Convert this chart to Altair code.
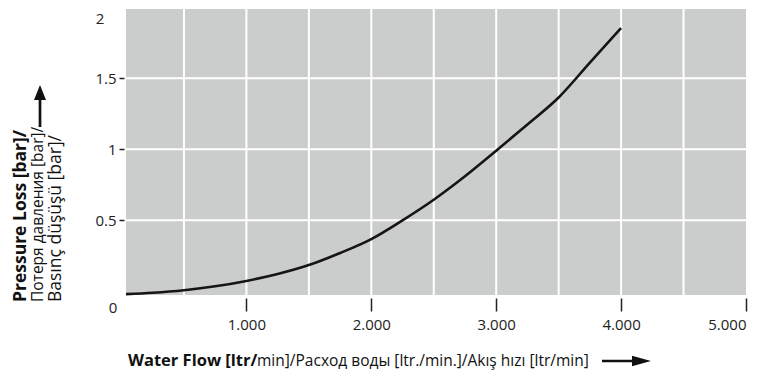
import altair as alt
import pandas as pd

# Curve data
flow = [36, 250, 500, 750, 1000, 1250, 1500, 1750, 2000, 2250, 2500, 2750, 3000, 3250, 3500, 3750, 4000]
loss = [-0.02, -0.01, 0.008, 0.035, 0.073, 0.122, 0.185, 0.27, 0.368, 0.5, 0.645, 0.81, 0.99, 1.175, 1.365, 1.61, 1.854]

x_ticks = [1000, 2000, 3000, 4000, 5000]
x_grid = [500, 1000, 1500, 2000, 2500, 3000, 3500, 4000, 4500]
y_ticks = [0.5, 1, 1.5]

y_title_lines = ["Pressure Loss [bar]/", "Потеря давления [bar]/", "Basınç düşüşü [bar]/"]
x_title_bold = "Water Flow [ltr/"
x_title_reg = "min]/Расход воды [ltr./min.]/Akış hızı [ltr/min]"

FONT = "Open Sans"
X_DOM = [36, 5000]
Y_DOM = [-0.026, 1.988]

xs = alt.Scale(domain=X_DOM, nice=False, zero=False)
ys = alt.Scale(domain=Y_DOM, nice=False, zero=False)

curve_df = pd.DataFrame({"flow": flow, "loss": loss})

curve = alt.Chart(curve_df).mark_line(color="#151515", strokeWidth=2.6, interpolate="monotone").encode(
    x=alt.X("flow:Q", scale=xs, axis=alt.Axis(
        values=x_ticks, title=None, domain=False, grid=False, tickSize=13, tickWidth=1.5,
        tickColor="#222", offset=3, labelPadding=6, labelFontSize=15, labelFont=FONT,
        labelColor="#222", labelExpr="replace(format(datum.value, ','), ',', '.')")),
    y=alt.Y("loss:Q", scale=ys, axis=alt.Axis(
        values=y_ticks, title=None, domain=False, grid=False, tickSize=5, tickWidth=1.5,
        tickColor="#222", offset=2, labelPadding=3, labelFontSize=15, labelFont=FONT,
        labelColor="#222", labelExpr="datum.value + ''")),
)

vgrid = alt.Chart(pd.DataFrame({"g": x_grid})).mark_rule(color="white", strokeWidth=2).encode(
    x=alt.X("g:Q", scale=xs))
hgrid = alt.Chart(pd.DataFrame({"g": y_ticks})).mark_rule(color="white", strokeWidth=2).encode(
    y=alt.Y("g:Q", scale=ys))

# corner labels "2" and "0"
lbl2 = alt.Chart(pd.DataFrame({"t": ["2"]})).mark_text(
    font=FONT, fontSize=15, color="#222", align="center", baseline="middle").encode(
    x=alt.value(-26), y=alt.value(10), text="t:N")
lbl0 = alt.Chart(pd.DataFrame({"t": ["0"]})).mark_text(
    font=FONT, fontSize=15, color="#222", align="center", baseline="middle").encode(
    x=alt.value(-13), y=alt.value(299), text="t:N")

# Y title (three rotated lines)
ytitle = []
for txt, xpos, wt, fs in zip(y_title_lines, [-105, -88, -70], ["bold", "normal", "normal"],
                             [17.5, 15.5, 17.5]):
    ytitle.append(alt.Chart(pd.DataFrame({"t": [txt]})).mark_text(
        font=FONT, fontSize=fs, fontWeight=wt, color="#111", angle=270, align="left",
        baseline="middle").encode(x=alt.value(xpos), y=alt.value(293), text="t:N"))

# Y arrow
yarrow_shaft = alt.Chart(pd.DataFrame({"a": [0]})).mark_rule(color="#111", strokeWidth=2.7).encode(
    x=alt.value(-86), y=alt.value(118), y2=alt.value(88))
yarrow_head = alt.Chart(pd.DataFrame({"a": [0]})).mark_point(
    shape="M-0.8,1L0,-1L0.8,1Z", filled=True, color="#111", opacity=1, size=225).encode(
    x=alt.value(-86), y=alt.value(83.5))

# X title
xt_bold = alt.Chart(pd.DataFrame({"t": [x_title_bold]})).mark_text(
    font=FONT, fontSize=16.5, fontWeight="bold", color="#111", align="left", baseline="middle").encode(
    x=alt.value(2), y=alt.value(352), text="t:N")
xt_reg = alt.Chart(pd.DataFrame({"t": [x_title_reg]})).mark_text(
    font=FONT, fontSize=15.5, fontWeight="normal", color="#111", align="left", baseline="middle").encode(
    x=alt.value(131), y=alt.value(352), text="t:N")

xarrow_shaft = alt.Chart(pd.DataFrame({"a": [0]})).mark_rule(color="#111", strokeWidth=2.7).encode(
    x=alt.value(476), x2=alt.value(510), y=alt.value(352))
xarrow_head = alt.Chart(pd.DataFrame({"a": [0]})).mark_point(
    shape="M-1,-0.55L1,0L-1,0.55Z", filled=True, color="#111", opacity=1, size=361).encode(
    x=alt.value(515.5), y=alt.value(352))

chart = alt.layer(
    vgrid, hgrid, curve, lbl2, lbl0, *ytitle, yarrow_shaft, yarrow_head,
    xt_bold, xt_reg, xarrow_shaft, xarrow_head
).properties(
    width=620, height=286,
    autosize=alt.AutoSizeParams(type="none"),
    padding={"left": 118, "top": 1, "right": 21, "bottom": 75},
).configure_view(fill="#cbcdcc", stroke=None)

chart.save("out.html", embed_options={"renderer": "svg", "actions": False})
